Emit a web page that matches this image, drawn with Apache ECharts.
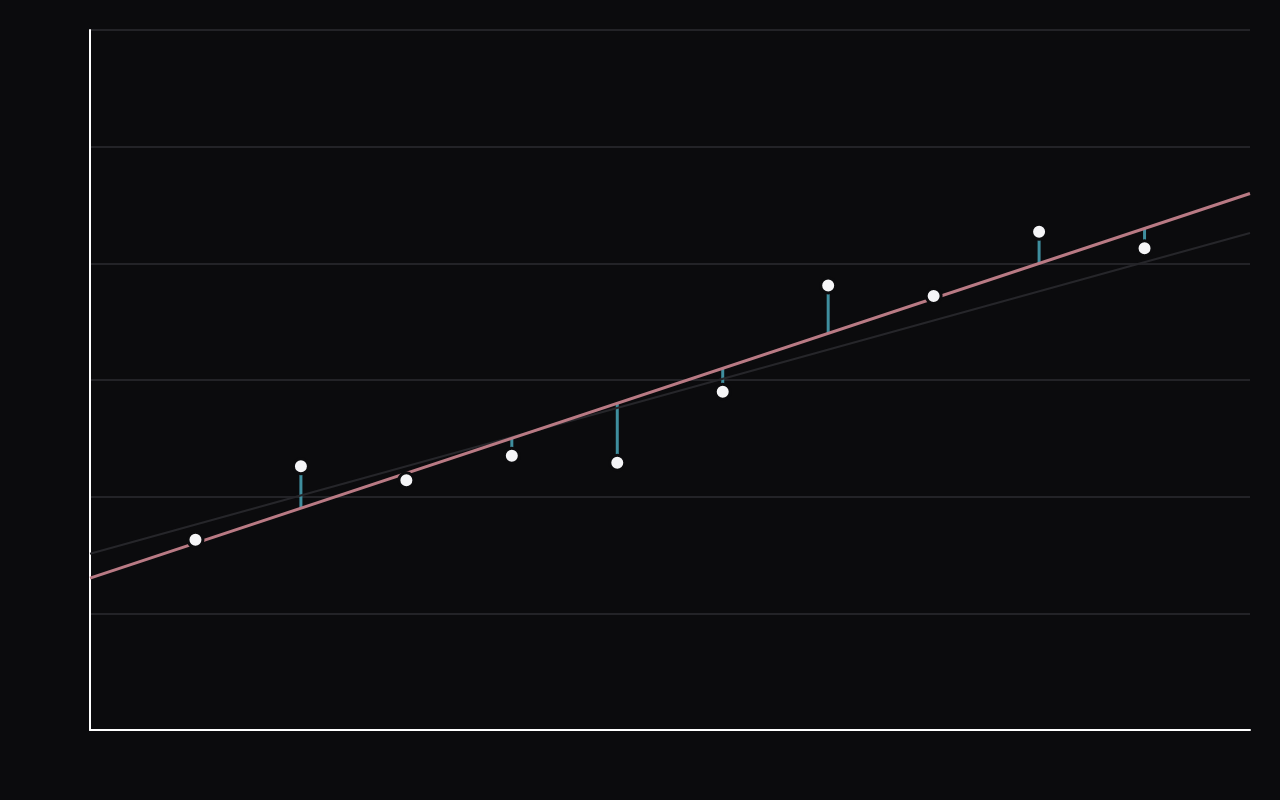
<!DOCTYPE html>
<html>
<head>
<meta charset="utf-8">
<script src="https://cdn.jsdelivr.net/npm/echarts@6/dist/echarts.min.js"></script>
<style>
html,body{margin:0;padding:0;background:#0b0b0d;}
#chart{width:1280px;height:800px;}
</style>
</head>
<body>
<div id="chart"></div>
<script>
// Observations
const xValues = [1, 2, 3, 4, 5, 6, 7, 8, 9, 10];
const yValues = [1.63, 2.26, 2.14, 2.35, 2.29, 2.90, 3.81, 3.72, 4.27, 4.13];
// Reference (underlying) line endpoints
const refLine = [[0, 1.51], [11, 4.26]];
// Axis extents
const xRange = [0, 11];
const yRange = [0, 6];

// Ordinary least squares fit
const n = xValues.length;
const mx = xValues.reduce((a, b) => a + b, 0) / n;
const my = yValues.reduce((a, b) => a + b, 0) / n;
let sxy = 0, sxx = 0;
for (let i = 0; i < n; i++) {
  sxy += (xValues[i] - mx) * (yValues[i] - my);
  sxx += (xValues[i] - mx) * (xValues[i] - mx);
}
const slope = sxy / sxx;
const intercept = my - slope * mx;
const fit = x => intercept + slope * x;
const fitLine = [[xRange[0], fit(xRange[0])], [xRange[1], fit(xRange[1])]];
const points = xValues.map((x, i) => [x, yValues[i]]);
const residuals = xValues.map((x, i) => [x, yValues[i], fit(x)]);

const chart = echarts.init(document.getElementById('chart'));
chart.setOption({
  backgroundColor: '#0b0b0d',
  animation: false,
  grid: { left: 90, right: 30, top: 30, bottom: 70 },
  xAxis: {
    type: 'value', min: xRange[0], max: xRange[1],
    axisLine: { show: true, onZero: false, lineStyle: { color: '#ffffff', width: 2 } },
    axisTick: { show: false }, axisLabel: { show: false },
    splitLine: { show: false }
  },
  yAxis: {
    type: 'value', min: yRange[0], max: yRange[1], interval: 1,
    axisLine: { show: true, onZero: false, lineStyle: { color: '#ffffff', width: 2 } },
    axisTick: { show: false }, axisLabel: { show: false },
    splitLine: { show: true, lineStyle: { color: '#232327', width: 2 } }
  },
  series: [
    {
      type: 'custom',
      z: 2,
      data: residuals,
      renderItem: function (params, api) {
        const p1 = api.coord([api.value(0), api.value(1)]);
        const p2 = api.coord([api.value(0), api.value(2)]);
        return {
          type: 'line',
          shape: { x1: p1[0], y1: p1[1], x2: p2[0], y2: p2[1] },
          style: { stroke: '#3f8e9e', lineWidth: 3 }
        };
      }
    },
    {
      type: 'line', z: 3, data: refLine, symbol: 'none',
      lineStyle: { color: '#26262a', width: 2 }
    },
    {
      type: 'line', z: 4, data: fitLine, symbol: 'none',
      lineStyle: { color: '#b97a84', width: 3 }
    },
    {
      type: 'scatter', z: 5, data: points, symbolSize: 15,
      itemStyle: { color: '#f5f5f7', borderColor: '#0b0b0d', borderWidth: 3, opacity: 1 }
    }
  ]
});
</script>
</body>
</html>
